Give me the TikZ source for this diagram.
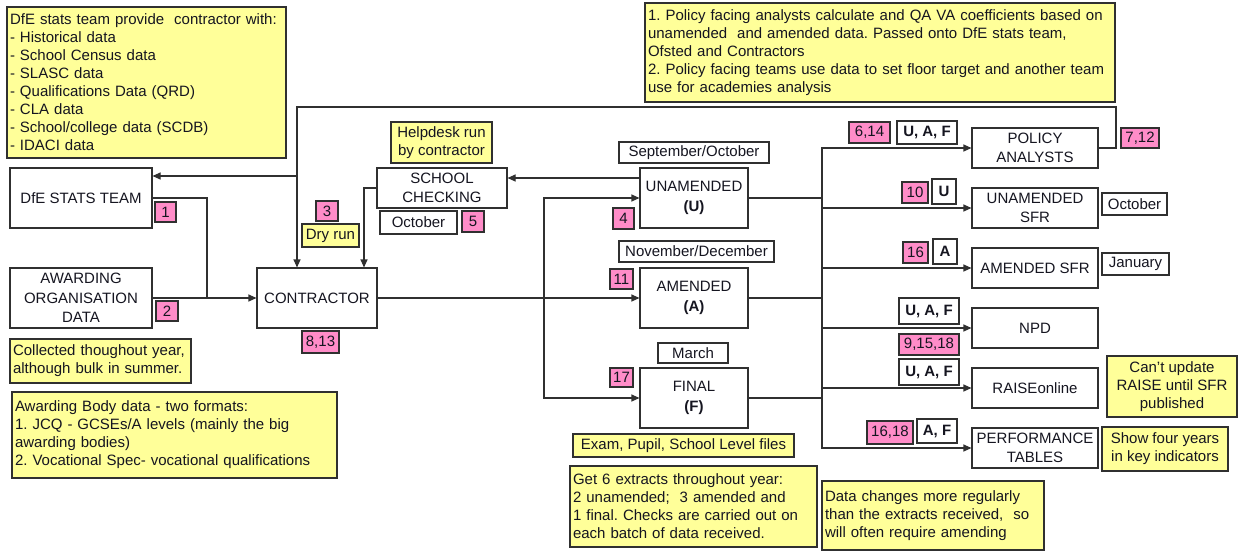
\documentclass[tikz,border=0pt]{standalone}
\usepackage{fontspec}
\setmainfont{Liberation Sans}
\usetikzlibrary{arrows.meta}
\frenchspacing
\definecolor{notec}{HTML}{FFFF99}
\definecolor{pinkc}{RGB}{255,140,200}
\definecolor{bordc}{HTML}{303030}
\definecolor{txtc}{HTML}{151520}
\newcommand{\mybox}[7]{%
  \pgfmathsetmacro\bxcx{(#3+#5)/2}\pgfmathsetmacro\bxcy{(#4+#6)/2}%
  \pgfmathsetmacro\bxw{#5-#3}\pgfmathsetmacro\bxh{#6-#4}%
  \node[#1, minimum width=\bxw pt, minimum height=\bxh pt] (#2) at (\bxcx,\bxcy) {#7};}
\newcommand{\mynote}[7]{%
  \pgfmathsetmacro\bxcx{(#3+#5)/2}\pgfmathsetmacro\bxcy{(#4+#6)/2}%
  \pgfmathsetmacro\bxw{#5-#3}\pgfmathsetmacro\bxh{#6-#4}\pgfmathsetmacro\bxtw{#5-#3-6}%
  \node[#1, minimum width=\bxw pt, minimum height=\bxh pt, text width=\bxtw pt] (#2) at (\bxcx,\bxcy) {#7};}
\tikzset{
  base/.style={draw=bordc, line width=1.1pt, inner sep=0pt, align=center, text=txtc,
    font=\fontsize{15}{19.5}\selectfont\frenchspacing},
  wbox/.style={base, fill=white},
  pinktag/.style={base, fill=pinkc, font=\fontsize{15}{18}\selectfont},
  tag/.style={base, fill=white, font=\fontsize{15}{18}\selectfont},
  btag/.style={base, fill=white, font=\fontsize{15}{18}\selectfont\bfseries},
  note/.style={base, fill=notec, font=\fontsize{15}{18}\selectfont\frenchspacing},
  lnote/.style={note, align=left},
  conn/.style={draw=bordc, line width=1.1pt},
  arr/.style={conn, -{Triangle[length=8pt,width=7pt]}},
}
\begin{document}
\begin{tikzpicture}[x=1pt,y=-1pt]
\useasboundingbox (0,0) rectangle (1239,552);
% main boxes
\mybox{wbox}{dfe}{10}{168}{152}{228}{DfE STATS TEAM}
\mybox{wbox}{awd}{10}{268}{152}{328}{AWARDING\\ORGANISATION\\DATA}
\mybox{wbox}{con}{257}{268}{377}{328}{CONTRACTOR}
\mybox{wbox}{sch}{377}{168}{507}{208}{SCHOOL\\CHECKING}
\mybox{wbox}{una}{640}{168}{748}{228}{UNAMENDED\\\textbf{(U)}}
\mybox{wbox}{ame}{640}{268}{748}{328}{AMENDED\\\textbf{(A)}}
\mybox{wbox}{fin}{640}{368}{748}{428}{FINAL\\\textbf{(F)}}
\mybox{wbox}{pol}{972}{128}{1098}{168}{POLICY\\ANALYSTS}
\mybox{wbox}{usfr}{972}{188}{1098}{228}{UNAMENDED\\SFR}
\mybox{wbox}{asfr}{972}{248}{1098}{288}{AMENDED SFR}
\mybox{wbox}{npd}{972}{308}{1098}{348}{NPD}
\mybox{wbox}{rai}{972}{368}{1098}{408}{RAISEonline}
\mybox{wbox}{per}{972}{428}{1098}{468}{PERFORMANCE\\TABLES}
% pink tags
\mybox{pinktag}{p1}{155}{202}{176}{222}{1}
\mybox{pinktag}{p2}{156}{301}{178}{321}{2}
\mybox{pinktag}{p3}{316}{201}{338}{221}{3}
\mybox{pinktag}{p813}{302}{331}{339}{353}{8,13}
\mybox{pinktag}{p5}{462}{211}{484}{232}{5}
\mybox{pinktag}{p4}{613}{208}{634}{229}{4}
\mybox{pinktag}{p11}{610}{269}{633}{289}{11}
\mybox{pinktag}{p17}{610}{368}{633}{387}{17}
\mybox{pinktag}{p614}{849}{122}{890}{143}{6,14}
\mybox{pinktag}{p712}{1121}{128}{1159}{148}{7,12}
\mybox{pinktag}{p10}{902}{182}{928}{203}{10}
\mybox{pinktag}{p16}{903}{242}{928}{263}{16}
\mybox{pinktag}{p91518}{899}{334}{959}{355}{9,15,18}
\mybox{pinktag}{p1618}{867}{421}{913}{444}{16,18}
% white tags
\mybox{tag}{septoct}{619}{142}{769}{163}{September/October}
\mybox{tag}{novdec}{619}{241}{774}{262}{November/December}
\mybox{tag}{march}{658}{343}{728}{363}{March}
\mybox{tag}{octa}{380}{211}{457}{234}{October}
\mybox{tag}{octb}{1102}{193}{1167}{215}{October}
\mybox{tag}{jan}{1102}{253}{1169}{275}{January}
\mybox{btag}{uaf1}{897}{121}{957}{144}{U, A, F}
\mybox{btag}{tu}{932}{179}{956}{204}{U}
\mybox{btag}{ta}{933}{239}{957}{264}{A}
\mybox{btag}{uaf2}{899}{298}{959}{324}{U, A, F}
\mybox{btag}{uaf3}{899}{359}{959}{385}{U, A, F}
\mybox{btag}{taf}{917}{419}{957}{443}{A, F}
% yellow notes
\mynote{lnote}{ndfe}{7}{7}{286}{158}{DfE stats team provide\ \ contractor with:\\- Historical data\\- School Census data\\- SLASC data\\- Qualifications Data (QRD)\\- CLA data\\- School/college data (SCDB)\\- IDACI data}
\mynote{lnote}{npol}{645}{3}{1115}{102}{\makebox[\hsize][s]{1. Policy facing analysts calculate and QA VA coefficients based on}\\unamended\ \ and amended data. Passed onto DfE stats team,\\Ofsted and Contractors\\\makebox[\hsize][s]{2. Policy facing teams use data to set floor target and another team}\\use for academies analysis}
\mybox{note}{nhelp}{391}{122}{492}{163}{Helpdesk run\\by contractor}
\mybox{note}{ndry}{302}{224}{359}{247}{Dry run}
\mynote{lnote}{ncoll}{10}{339}{191}{383}{Collected thoughout year,\\although bulk in summer.}
\mynote{lnote}{nawb}{12}{392}{337}{478}{Awarding Body data - two formats:\\1. JCQ - GCSEs/A levels (mainly the big\\awarding bodies)\\2. Vocational Spec- vocational qualifications}
\mybox{note}{nexam}{573}{434}{794}{457}{Exam, Pupil, School Level files}
\mynote{lnote}{nget}{570}{466}{817}{547}{Get 6 extracts throughout year:\\2 unamended;\ \ 3 amended and\\1 final. Checks are carried out on\\each batch of data received.}
\mynote{lnote}{ndata}{822}{481}{1044}{550}{Data changes more regularly\\than the extracts received,\ \ so\\will often require amending}
\mybox{note}{ncant}{1107}{356}{1237}{417}{Can't update\\RAISE until SFR\\published}
\mybox{note}{nshow}{1102}{427}{1228}{471}{Show four years\\in key indicators}
% connectors
\coordinate (jd) at (207,298);
\draw[conn] (dfe.east) -| (jd);
\draw[arr] (awd.east) -- (con.west);
\coordinate (fbR) at (1116,107);
\coordinate (fbL) at (297,107);
\coordinate (fbD) at (297,176);
\draw[arr] (pol.east) -| (fbR) -- (fbL) -- (fbL |- con.north);
\draw[arr] (fbD) -- (fbD -| dfe.east);
\coordinate (sc) at (364,188);
\draw[arr] (sch.west) -- (sc) -- (sc |- con.north);
\draw[arr] ([yshift=20pt]una.west) -- ([yshift=20pt]una.west -| sch.east);
\draw[arr] (con.east) -- (ame.west);
\coordinate (jl) at (544,298);
\draw[arr] (jl) |- (una.west);
\draw[arr] (jl) |- (fin.west);
\coordinate (rv) at (822,298);
\draw[conn] (una.east) -| (rv);
\draw[conn] (ame.east) -- (rv);
\draw[conn] (fin.east) -| (rv);
\draw[arr] (rv) |- (pol.west);
\draw[arr] (rv) |- (usfr.west);
\draw[arr] (rv) |- (asfr.west);
\draw[arr] (rv) |- (npd.west);
\draw[arr] (rv) |- (rai.west);
\draw[arr] (rv) |- (per.west);
\end{tikzpicture}
\end{document}
